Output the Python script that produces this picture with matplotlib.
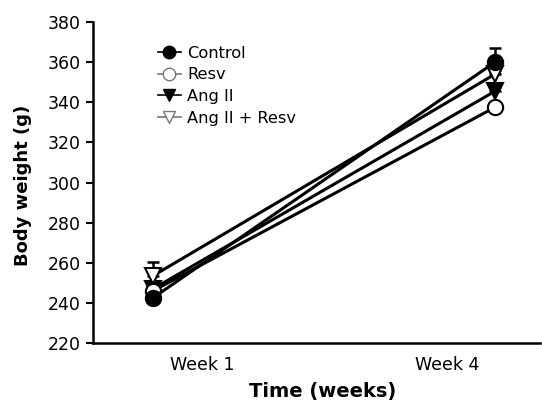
import matplotlib
matplotlib.use("Agg")
import matplotlib.pyplot as plt
import matplotlib.transforms as mtransforms
from matplotlib.lines import Line2D

plt.rcParams['font.family'] = ['DejaVu Sans']

weeks = ["Week 1", "Week 4"]
groups = ["Control", "Resv", "Ang II", "Ang II + Resv"]
means = {
    "Control": [242.5, 360.0],
    "Resv": [246.0, 337.5],
    "Ang II": [247.0, 345.5],
    "Ang II + Resv": [253.5, 354.0],
}
sem = {
    "Control": [2.0, 7.0],
    "Resv": [2.0, 2.0],
    "Ang II": [2.0, 2.0],
    "Ang II + Resv": [7.0, 2.0],
}
yticks = [220, 240, 260, 280, 300, 320, 340, 360, 380]

styles = {
    "Control": dict(marker="o", mfc="black"),
    "Resv": dict(marker="o", mfc="white"),
    "Ang II": dict(marker="v", mfc="black"),
    "Ang II + Resv": dict(marker="v", mfc="white"),
}
draw_order = ["Ang II", "Resv", "Ang II + Resv", "Control"]

W, H = 542, 403
fig = plt.figure(figsize=(W / 100, H / 100), dpi=100)
ax = fig.add_axes([93 / W, 1 - 343 / H, (540 - 93) / W, (343 - 22) / H])

x = [0, 1]
for i, g in enumerate(draw_order):
    st = styles[g]
    ax.errorbar(x, means[g], yerr=[[0, 0], sem[g]], fmt="none", ecolor="black",
                elinewidth=1.8, capsize=4.5, capthick=1.8, zorder=2 + i)
    ax.plot(x, means[g], color="black", lw=2.2, marker=st["marker"],
            ms=11, mfc=st["mfc"], mec="black", mew=1.5, zorder=3 + i)

ax.set_ylim(220, 380)
ax.set_xlim(-60 / 342, 1 + 45 / 342)
ax.set_yticks(yticks)
ax.set_xticks(x)
ax.set_xticklabels(weeks)
ax.tick_params(axis="y", direction="out", length=5, width=1.5, labelsize=12.5, pad=4)
ax.tick_params(axis="x", length=0, labelsize=12.5, pad=9)
offs = [49, -48]
for lab, dx in zip(ax.get_xticklabels(), offs):
    lab.set_transform(lab.get_transform() + mtransforms.ScaledTranslation(dx / 100, 0, fig.dpi_scale_trans))

for s in ["top", "right"]:
    ax.spines[s].set_visible(False)
for s in ["left", "bottom"]:
    ax.spines[s].set_linewidth(1.8)

ax.set_ylabel("Body weight (g)", fontsize=13, fontweight="bold", labelpad=6)
ax.yaxis.set_label_coords(-(93 - 23) / (540 - 93), 0.49)
ax.set_xlabel("Time (weeks)", fontsize=14, fontweight="bold", labelpad=6)
ax.xaxis.set_label_coords((323 - 93) / (540 - 93), -(391 - 343) / (343 - 22))
ax.xaxis.label.set_va("center")
ax.yaxis.label.set_va("center")

handles = []
for g in groups:
    st = styles[g]
    col = "black" if st["mfc"] == "black" else "#777777"
    handles.append(Line2D([0], [0], color=col, lw=1.2, marker=st["marker"], ms=9,
                          mfc=st["mfc"], mec=col, mew=1.0))
ax.legend(handles, groups, loc="upper left", bbox_to_anchor=(0.131, 0.947),
          frameon=False, fontsize=11.7, handlelength=1.4, handletextpad=0.4,
          labelspacing=0.42, borderaxespad=0)

fig.savefig("out.png", dpi=100)
